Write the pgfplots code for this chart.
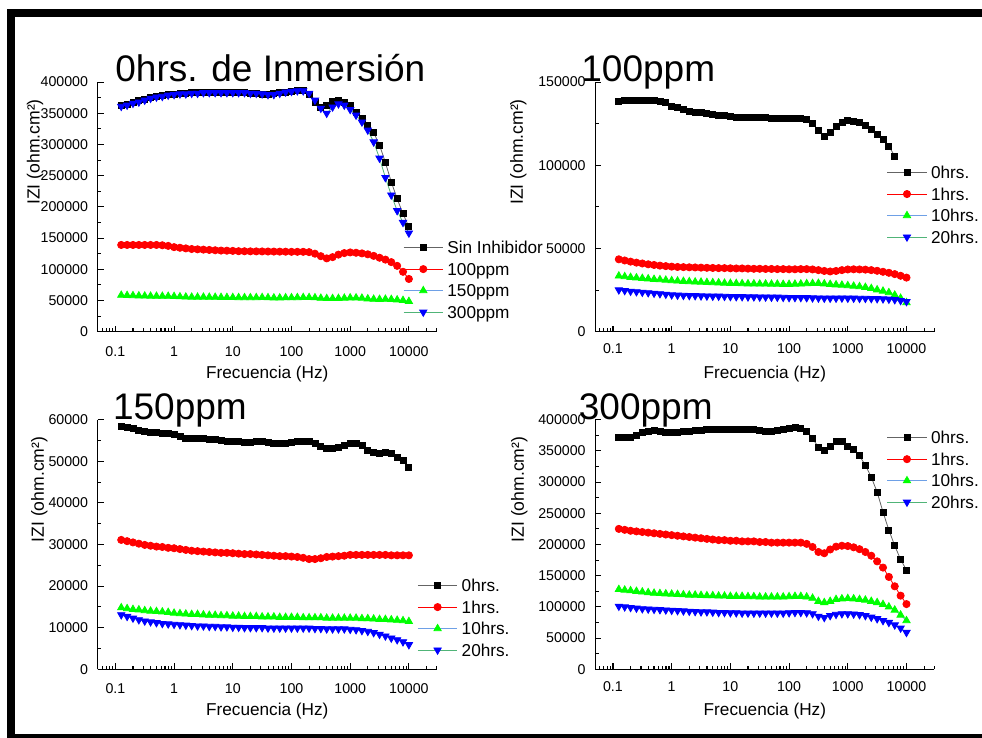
\documentclass[border=0pt]{standalone}
\usepackage{fontspec}
\setmainfont{Liberation Sans}
\usepackage{pgfplots}
\usepackage{pgfplotstable}
\pgfplotsset{compat=1.18}

\definecolor{mkgreen}{RGB}{0,255,0}
\definecolor{mkblue}{RGB}{0,0,255}
\definecolor{mkred}{RGB}{255,0,0}
\definecolor{lnblue}{RGB}{110,160,230}
\definecolor{lngreen}{RGB}{80,180,120}
\definecolor{lngray}{RGB}{100,100,100}

\newcommand\tickfont{\fontsize{7.1pt}{8pt}\selectfont}
\newcommand\labfont{\fontsize{8.6pt}{10pt}\selectfont}
\newcommand\ylabfont{\fontsize{8.8pt}{10pt}\selectfont}
\newcommand\titfont{\fontsize{18.5pt}{22pt}\selectfont}

\pgfplotstableread{
f a b c d
10000 168000 84500 48600 158000
7943 189000 96000 50200 175000
6310 213000 105500 51000 194000
5012 240000 111500 51800 219000
3981 271000 115500 52100 247000
3162 299000 118500 51900 278000
2512 319000 121500 52100 304000
1995 331000 124000 52700 323000
1585 342000 125500 53800 336000
1259 351000 126500 54300 347000
1000 362000 127000 54300 356000
794.3 368000 126000 53800 363000
631.0 371000 123500 53400 365000
501.2 369000 119500 53200 360000
398.1 362000 117500 53200 350000
316.2 360000 121000 53700 358000
251.2 368000 125000 54400 371000
199.5 380000 127500 54800 382000
158.5 386000 128000 54800 386000
125.9 386000 128000 54700 386000
100 385000 128000 54500 385000
79.43 384000 128200 54400 384000
63.10 383000 128300 54200 382000
50.12 382000 128400 54200 380000
39.81 381000 128500 54500 380000
31.62 381000 128600 54800 381000
25.12 382000 128700 54700 382000
19.95 382000 128800 54600 382000
15.85 383000 128900 54600 383000
12.59 383000 129000 54700 383000
10 384000 129500 54800 383000
7.943 384000 129800 54900 383000
6.310 384000 130000 55000 383000
5.012 384000 130500 55200 383000
3.981 384000 131000 55300 383000
3.162 383000 131500 55400 383000
2.512 383000 132000 55400 382000
1.995 383000 132500 55400 382000
1.585 382000 133500 55600 381000
1.259 382000 134500 56000 381000
1 381000 135500 56500 380000
0.7943 380000 137500 56800 379000
0.6310 379000 138500 56800 377000
0.5012 377000 139000 56900 376000
0.3981 375000 139000 57000 374000
0.3162 373000 139000 57200 371000
0.2512 370000 139000 57500 368000
0.1995 368000 139000 57800 366000
0.1585 365000 139000 58100 363000
0.1259 363000 139000 58400 361000
}\tabA

\pgfplotstableread{
f a b c d
10000 nan 32500 17500 18100
7943 nan 33600 20100 18700
6310 105500 34600 22000 19200
5012 111500 35400 23500 19500
3981 115500 36000 24400 19700
3162 118500 36600 25200 19800
2512 121500 37000 26000 19900
1995 124000 37300 26700 20000
1585 125500 37400 27100 20000
1259 126500 37500 27400 20100
1000 127000 37400 27700 20100
794.3 126000 37000 28000 20200
631.0 123500 36500 28200 20100
501.2 119500 36200 28500 20100
398.1 117500 36500 28800 20100
316.2 121000 37000 29100 20200
251.2 125000 37400 29000 20300
199.5 127500 37600 28900 20400
158.5 128000 37600 28700 20500
125.9 128000 37500 28600 20500
100 128000 37500 28500 20500
79.43 128200 37600 28500 20600
63.10 128300 37600 28600 20700
50.12 128400 37700 28600 20700
39.81 128500 37700 28700 20800
31.62 128600 37800 28700 20800
25.12 128700 37800 28800 20900
19.95 128800 37900 28800 20900
15.85 128900 38000 28900 21000
12.59 129000 38000 29000 21000
10 129500 38100 29100 21100
7.943 129800 38200 29200 21200
6.310 130000 38200 29400 21300
5.012 130500 38300 29500 21300
3.981 131000 38400 29600 21400
3.162 131500 38500 29800 21500
2.512 132000 38600 29900 21600
1.995 132500 38700 30100 21700
1.585 133500 38800 30300 21800
1.259 134500 38900 30500 21900
1 135500 39100 30700 22100
0.7943 137500 39400 31000 22500
0.6310 138500 39700 31300 22800
0.5012 139000 40100 31500 23100
0.3981 139000 40500 31800 23400
0.3162 139000 41000 32100 23700
0.2512 139000 41500 32400 24000
0.1995 139000 42100 32700 24300
0.1585 139000 42800 33100 24700
0.1259 138500 43500 33500 25100
}\tabB

\pgfplotstableread{
f a b c d
10000 48600 27400 11500 5900
7943 50200 27400 11700 6600
6310 51000 27400 11800 7100
5012 51800 27400 11900 7500
3981 52100 27500 12000 8000
3162 51900 27500 12000 8400
2512 52100 27500 12100 8800
1995 52700 27500 12200 9100
1585 53800 27500 12200 9300
1259 54300 27500 12300 9500
1000 54300 27500 12300 9600
794.3 53800 27300 12300 9700
631.0 53400 27200 12300 9700
501.2 53200 27100 12300 9700
398.1 53200 27000 12300 9700
316.2 53700 26700 12400 9800
251.2 54400 26500 12400 9800
199.5 54800 26500 12400 9900
158.5 54800 26800 12400 9900
125.9 54700 27000 12500 9900
100 54500 27100 12500 9900
79.43 54400 27200 12500 9900
63.10 54200 27200 12500 9900
50.12 54200 27300 12600 9900
39.81 54500 27400 12600 9900
31.62 54800 27500 12600 10000
25.12 54700 27600 12700 10000
19.95 54600 27700 12700 10000
15.85 54600 27700 12700 10000
12.59 54700 27800 12800 10100
10 54800 27900 12800 10100
7.943 54900 28000 12900 10200
6.310 55000 28000 12900 10200
5.012 55200 28100 13000 10300
3.981 55300 28200 13000 10300
3.162 55400 28300 13100 10400
2.512 55400 28400 13200 10400
1.995 55400 28500 13200 10500
1.585 55600 28700 13300 10600
1.259 56000 28900 13400 10700
1 56500 29100 13500 10800
0.7943 56800 29200 13700 10900
0.6310 56800 29400 13800 11000
0.5012 56900 29500 13900 11200
0.3981 57000 29700 14000 11400
0.3162 57200 29900 14100 11600
0.2512 57500 30200 14300 11900
0.1995 57800 30500 14400 12300
0.1585 58100 30800 14600 12700
0.1259 58400 31100 14800 13100
}\tabC

\pgfplotstableread{
f a b c d
10000 159000 104500 78000 59000
7943 176000 118000 87000 66000
6310 198000 133000 95000 71000
5012 223000 148000 100000 75000
3981 252000 163000 104000 78000
3162 284000 173000 107000 81000
2512 308000 182000 109000 83500
1995 327000 188000 111000 86000
1585 342000 192500 112000 87500
1259 352000 195500 113000 88500
1000 358000 197500 113500 89000
794.3 366000 198000 113000 89000
631.0 365000 196500 112000 88000
501.2 357000 192000 109000 86000
398.1 350000 186000 107000 83000
316.2 356000 188000 109000 85000
251.2 370000 196000 114000 89000
199.5 382000 201000 116000 90500
158.5 386000 203000 117000 91000
125.9 387000 203000 117000 91000
100 386000 203000 116500 90500
79.43 385000 203000 116000 90000
63.10 383000 203000 116000 90000
50.12 382000 203000 116000 90000
39.81 382000 204000 116000 90000
31.62 383000 204000 116000 90000
25.12 384000 205000 116500 90000
19.95 384000 205000 116500 90000
15.85 385000 205000 117000 90000
12.59 385000 206000 117000 90500
10 385000 206000 117000 90500
7.943 385000 207000 117500 91000
6.310 385000 207000 117500 91000
5.012 384000 208000 118000 91500
3.981 384000 209000 118000 92000
3.162 383000 210000 118500 92000
2.512 383000 211000 119000 92500
1.995 382000 212000 119000 93000
1.585 381000 213000 119500 93500
1.259 380000 214000 120000 94000
1 379000 215000 120500 94500
0.7943 380000 216000 121000 95000
0.6310 382000 217000 121500 95500
0.5012 383000 218000 122000 96000
0.3981 382000 219000 123000 96500
0.3162 379000 220000 124000 97000
0.2512 375000 221000 125000 98000
0.1995 372000 222000 126000 99000
0.1585 371000 223500 127000 100000
0.1259 372000 225000 128000 101000
}\tabD

\pgfplotsset{
  every axis/.append style={
    scale only axis, width=169.6pt, height=124.8pt,
    xmin=0.05, xmax=30000, ymin=0,
    axis lines*=left,
    axis line style={line width=0.55pt, black},
    tick align=inside,
    major tick length=3pt, minor tick length=1.7pt,
    tick style={line width=0.55pt, black},
    xtick={0.1,1,10,100,1000,10000},
    xticklabels={0.1,1,10,100,1000,10000},
    minor xtick={0.06,0.07,0.08,0.09,0.2,0.3,0.4,0.5,0.6,0.7,0.8,0.9,2,3,4,5,6,7,8,9,20,30,40,50,60,70,80,90,200,300,400,500,600,700,800,900,2000,3000,4000,5000,6000,7000,8000,9000,20000,30000},
    minor y tick num=1,
    scaled y ticks=false,
    yticklabel={\pgfmathprintnumber[fixed,precision=0,1000 sep={},assume math mode=true]{\tick}},
    ticklabel style={font=\tickfont},
    yticklabel style={xshift=-1.3pt},
    xlabel={Frecuencia (Hz)},
    ylabel={IZI (ohm.cm²)},
    xlabel style={font=\labfont, at={(axis description cs:0.5,-0.168)}, anchor=center},
    ylabel style={font=\ylabfont},
    legend cell align=left,
    legend image code/.code={\draw[mark repeat=2,mark phase=2,##1] plot coordinates {(0pt,0.8pt) (9.85pt,0.8pt) (19.7pt,0.8pt)};},
    legend style={draw=none, fill=none, inner sep=0pt, outer sep=0pt, font=\labfont,
      row sep=2.75pt, anchor=north west,
      nodes={inner ysep=0pt, inner xsep=2pt, text height=6.3pt, text depth=1.7pt}},
  },
}

\begin{document}
\begin{tikzpicture}
\useasboundingbox (0,0) rectangle (491pt,369pt);
\fill[white] (0,0) rectangle (491pt,369pt);

% Panel 1
\begin{semilogxaxis}[at={(48.85pt,203.15pt)}, anchor=south west,
  ymax=400000, ytick={0,50000,100000,150000,200000,250000,300000,350000,400000},
  xticklabel style={yshift=-3.8pt},
  ylabel style={at={(axis description cs:-0.185,0.72)}, anchor=center},
  legend style={at={(axis description cs:0.9006,0.3625)}}]
\addplot[color=lngray, line width=0.4pt, mark=square*, mark size=1.5pt, mark options={draw=black, fill=black}] table[x=f,y=a]{\tabA}; \addlegendentry{Sin Inhibidor}
\addplot[color=mkred, line width=0.4pt, mark=*, mark size=1.8pt, mark options={draw=mkred, fill=mkred}] table[x=f,y=b]{\tabA}; \addlegendentry{100ppm}
\addplot[color=lnblue, line width=0.4pt, mark=triangle*, mark size=2.1pt, mark options={draw=mkgreen, fill=mkgreen}] table[x=f,y=c]{\tabA}; \addlegendentry{150ppm}
\addplot[color=lngreen, line width=0.4pt, mark=triangle*, mark size=2.1pt, mark options={draw=mkblue, fill=mkblue, rotate=180}] table[x=f,y=d]{\tabA}; \addlegendentry{300ppm}
\end{semilogxaxis}

% Panel 2
\begin{semilogxaxis}[at={(297.65pt,203.15pt)}, anchor=south west,
  ymax=150000, ytick={0,50000,100000,150000},
  xticklabel style={yshift=-2.6pt},
  ylabel style={at={(axis description cs:-0.227,0.72)}, anchor=center},
  legend style={at={(axis description cs:0.8596,0.6632)}}]
\addplot[color=lngray, line width=0.4pt, mark=square*, mark size=1.5pt, mark options={draw=black, fill=black}] table[x=f,y=a]{\tabB}; \addlegendentry{0hrs.}
\addplot[color=mkred, line width=0.4pt, mark=*, mark size=1.8pt, mark options={draw=mkred, fill=mkred}] table[x=f,y=b]{\tabB}; \addlegendentry{1hrs.}
\addplot[color=lnblue, line width=0.4pt, mark=triangle*, mark size=2.1pt, mark options={draw=mkgreen, fill=mkgreen}] table[x=f,y=c]{\tabB}; \addlegendentry{10hrs.}
\addplot[color=lngreen, line width=0.4pt, mark=triangle*, mark size=2.1pt, mark options={draw=mkblue, fill=mkblue, rotate=180}] table[x=f,y=d]{\tabB}; \addlegendentry{20hrs.}
\end{semilogxaxis}

% Panel 3
\begin{semilogxaxis}[at={(48.85pt,34.35pt)}, anchor=south west,
  ymax=60000, ytick={0,10000,20000,30000,40000,50000,60000},
  xticklabel style={yshift=-3.8pt},
  ylabel style={at={(axis description cs:-0.172,0.72)}, anchor=center},
  legend style={at={(axis description cs:0.9428,0.361)}}]
\addplot[color=lngray, line width=0.4pt, mark=square*, mark size=1.5pt, mark options={draw=black, fill=black}] table[x=f,y=a]{\tabC}; \addlegendentry{0hrs.}
\addplot[color=mkred, line width=0.4pt, mark=*, mark size=1.8pt, mark options={draw=mkred, fill=mkred}] table[x=f,y=b]{\tabC}; \addlegendentry{1hrs.}
\addplot[color=lnblue, line width=0.4pt, mark=triangle*, mark size=2.1pt, mark options={draw=mkgreen, fill=mkgreen}] table[x=f,y=c]{\tabC}; \addlegendentry{10hrs.}
\addplot[color=lngreen, line width=0.4pt, mark=triangle*, mark size=2.1pt, mark options={draw=mkblue, fill=mkblue, rotate=180}] table[x=f,y=d]{\tabC}; \addlegendentry{20hrs.}
\end{semilogxaxis}

% Panel 4
\begin{semilogxaxis}[at={(297.65pt,34.35pt)}, anchor=south west,
  ymax=400000, ytick={0,50000,100000,150000,200000,250000,300000,350000,400000},
  xticklabel style={yshift=-2.6pt},
  ylabel style={at={(axis description cs:-0.224,0.72)}, anchor=center},
  legend style={at={(axis description cs:0.8596,0.9536)}}]
\addplot[color=lngray, line width=0.4pt, mark=square*, mark size=1.5pt, mark options={draw=black, fill=black}] table[x=f,y=a]{\tabD}; \addlegendentry{0hrs.}
\addplot[color=mkred, line width=0.4pt, mark=*, mark size=1.8pt, mark options={draw=mkred, fill=mkred}] table[x=f,y=b]{\tabD}; \addlegendentry{1hrs.}
\addplot[color=lnblue, line width=0.4pt, mark=triangle*, mark size=2.1pt, mark options={draw=mkgreen, fill=mkgreen}] table[x=f,y=c]{\tabD}; \addlegendentry{10hrs.}
\addplot[color=lngreen, line width=0.4pt, mark=triangle*, mark size=2.1pt, mark options={draw=mkblue, fill=mkblue, rotate=180}] table[x=f,y=d]{\tabD}; \addlegendentry{20hrs.}
\end{semilogxaxis}

% titles
\node[anchor=base west, font=\titfont, inner sep=0pt] at (57.5pt,328.15pt) {0hrs. de Inmersión};
\node[anchor=base west, font=\titfont, inner sep=0pt] at (290.5pt,328.15pt) {100ppm};
\node[anchor=base west, font=\titfont, inner sep=0pt] at (56.35pt,159pt) {150ppm};
\node[anchor=base west, font=\titfont, inner sep=0pt] at (289.25pt,159.35pt) {300ppm};

% frame
\fill[black] (3.5pt,360.65pt) rectangle (491pt,364.5pt);
\fill[black] (3.5pt,0pt) rectangle (7.5pt,364.5pt);
\fill[black] (3.5pt,0pt) rectangle (491pt,2pt);
\end{tikzpicture}
\end{document}
